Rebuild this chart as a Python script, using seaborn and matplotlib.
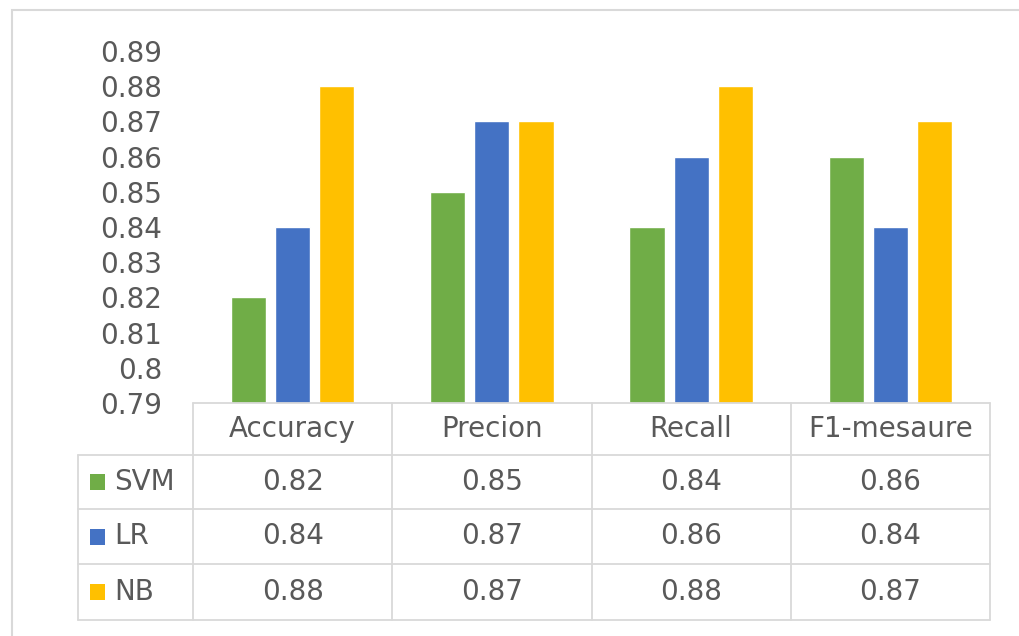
import matplotlib
matplotlib.use("Agg")
import matplotlib.pyplot as plt
from matplotlib.lines import Line2D
from matplotlib.patches import Rectangle
import pandas as pd
import seaborn as sns

# Metric categories and classifier scores
categories = ["Accuracy", "Precion", "Recall", "F1-mesaure"]
models = ["SVM", "LR", "NB"]
svm_scores = [0.82, 0.85, 0.84, 0.86]
lr_scores = [0.84, 0.87, 0.86, 0.84]
nb_scores = [0.88, 0.87, 0.88, 0.87]
y_ticks = [0.79, 0.80, 0.81, 0.82, 0.83, 0.84, 0.85, 0.86, 0.87, 0.88, 0.89]
y_tick_labels = ["0.79", "0.8", "0.81", "0.82", "0.83", "0.84", "0.85",
                 "0.86", "0.87", "0.88", "0.89"]
colors = ["#70AD47", "#4472C4", "#FFC000"]

scores = {"SVM": svm_scores, "LR": lr_scores, "NB": nb_scores}
df = pd.DataFrame(
    [(c, m, scores[m][i]) for m in models for i, c in enumerate(categories)],
    columns=["metric", "model", "score"],
)

W, H = 1019, 636
sns.set_theme(style="white")
plt.rcParams["font.family"] = ["DejaVu Sans"]
text_color = "#595959"
line_color = "#D9D9D9"
fs = 20

fig = plt.figure(figsize=(W / 100, H / 100), dpi=100)
fig.patch.set_facecolor("white")


def fx(px):
    return px / W


def fy(py):
    return 1 - py / H


# Plot area
x0, x1, ytop, ybase = 193, 990, 51, 403
ax = fig.add_axes([fx(x0), fy(ybase), fx(x1) - fx(x0), fy(ytop) - fy(ybase)])
sns.barplot(data=df, x="metric", y="score", hue="model", order=categories,
            hue_order=models, palette=colors, width=0.663, gap=0.2,
            legend=False, ax=ax, saturation=1, errorbar=None)
ax.set_ylim(y_ticks[0], y_ticks[-1])
ax.set_xlim(-0.5, len(categories) - 0.5)
ax.set_yticks(y_ticks)
ax.set_yticklabels(y_tick_labels)
ax.tick_params(axis="y", length=0, pad=22, labelsize=fs, labelcolor=text_color)
ax.set_xticks([])
ax.set_xlabel("")
ax.set_ylabel("")
for s in ax.spines.values():
    s.set_visible(False)
ax.patch.set_alpha(0)

# Outer chart border
fig.add_artist(Rectangle((fx(12), fy(H + 20)), fx(W + 20), fy(10) - fy(H + 20),
                         transform=fig.transFigure, fill=False,
                         edgecolor=line_color, lw=1.5))

# Data table below the plot area
col_edges = [x0 + (x1 - x0) * k / len(categories) for k in range(len(categories) + 1)]
row_edges = [403, 455, 509, 564, 620]
head_left = 78


def hline(xa, xb, y):
    fig.add_artist(Line2D([fx(xa), fx(xb)], [fy(y), fy(y)],
                          transform=fig.transFigure, color=line_color, lw=1.3))


def vline(x, ya, yb):
    fig.add_artist(Line2D([fx(x), fx(x)], [fy(ya), fy(yb)],
                          transform=fig.transFigure, color=line_color, lw=1.3))


hline(x0, x1, row_edges[0])
for y in row_edges[1:]:
    hline(head_left, x1, y)
vline(head_left, row_edges[1], row_edges[-1])
for x in col_edges:
    vline(x, row_edges[0], row_edges[-1])

# Header row
for i, c in enumerate(categories):
    cx = (col_edges[i] + col_edges[i + 1]) / 2
    fig.text(fx(cx), fy((row_edges[0] + row_edges[1]) / 2), c, ha="center",
             va="center", fontsize=fs, color=text_color)

# Series rows with legend keys
for r, m in enumerate(models):
    cy = (row_edges[r + 1] + row_edges[r + 2]) / 2
    fig.add_artist(Rectangle((fx(90), fy(cy + 8)), fx(15), fy(cy - 8) - fy(cy + 8),
                             transform=fig.transFigure, facecolor=colors[r],
                             edgecolor="none"))
    fig.text(fx(114), fy(cy), m, ha="left", va="center", fontsize=fs,
             color=text_color)
    for i, v in enumerate(scores[m]):
        cx = (col_edges[i] + col_edges[i + 1]) / 2
        fig.text(fx(cx), fy(cy), f"{v:.2f}", ha="center", va="center",
                 fontsize=fs, color=text_color)

fig.savefig("out.png", dpi=100)
